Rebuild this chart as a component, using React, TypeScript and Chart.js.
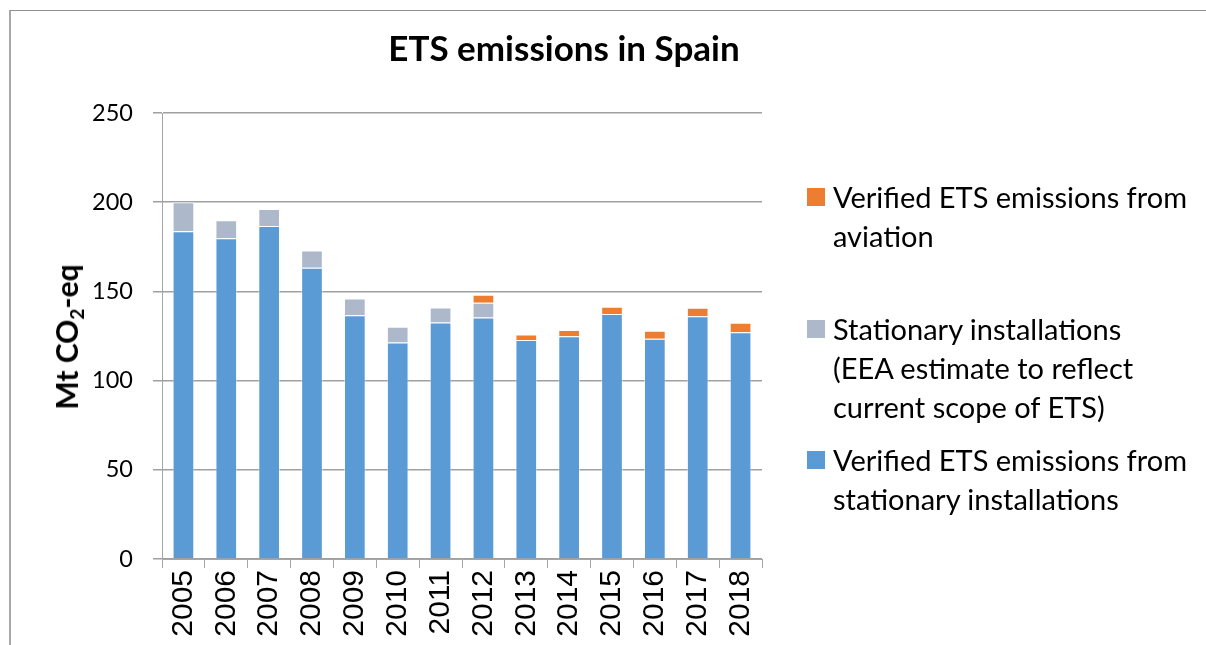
import React, { useEffect, useRef } from "react";
import { Chart, registerables } from "chart.js";

Chart.register(...registerables);

const years = ["2005","2006","2007","2008","2009","2010","2011","2012","2013","2014","2015","2016","2017","2018"];
const verifiedStationary = [183.7, 179.8, 186.7, 163.3, 136.7, 121.3, 132.6, 135.4, 122.8, 124.9, 137.3, 123.4, 136.1, 127.1];
const eeaEstimate = [16.3, 10.1, 9.5, 9.6, 9.3, 8.9, 8.4, 8.2, null, null, null, null, null, null];
const aviation = [null, null, null, null, null, null, null, 4.5, 3.0, 3.4, 4.1, 4.5, 4.7, 5.3];
const yTicks = [0, 50, 100, 150, 200, 250];

const title = "ETS emissions in Spain";
const legendItems = [
  { color: "#ED7D31", lines: ["Verified ETS emissions from", "aviation"] },
  { color: "#ADB9CA", lines: ["Stationary installations", "(EEA estimate to reflect", "current scope of ETS)"] },
  { color: "#5B9BD5", lines: ["Verified ETS emissions from", "stationary installations"] },
];

export default function App() {
  const ref = useRef<HTMLCanvasElement>(null);
  useEffect(() => {
    if (!ref.current) return;
    const edge = "rgba(255,255,255,0.45)";
    const chart = new Chart(ref.current, {
      type: "bar",
      data: {
        labels: years,
        datasets: [
          { label: "Verified ETS emissions from stationary installations", data: verifiedStationary, backgroundColor: "#5B9BD5", borderColor: edge, borderWidth: 1 },
          { label: "Stationary installations (EEA estimate to reflect current scope of ETS)", data: eeaEstimate as any, backgroundColor: "#ADB9CA", borderColor: edge, borderWidth: 1 },
          { label: "Verified ETS emissions from aviation", data: aviation as any, backgroundColor: "#ED7D31", borderColor: edge, borderWidth: 1 },
        ],
      },
      options: {
        animation: false,
        responsive: false,
        maintainAspectRatio: false,
        layout: { padding: { left: 92, right: 444, top: 113, bottom: 0 } },
        plugins: { legend: { display: false }, tooltip: { enabled: false }, title: { display: false } },
        datasets: { bar: { barPercentage: 0.506, categoryPercentage: 1 } },
        scales: {
          x: {
            stacked: true,
            afterFit: (s: any) => { s.height = 86; },
            grid: { offset: true, drawOnChartArea: false, drawTicks: true, tickLength: 9, color: "#A6A6A6", lineWidth: 1 },
            border: { display: true, color: "#A6A6A6", width: 1 },
            ticks: { minRotation: 90, maxRotation: 90, autoSkip: false, padding: 2, color: "#000", font: { family: "Liberation Sans", size: 30 } },
          },
          y: {
            stacked: true,
            min: 0,
            max: 250,
            afterFit: (s: any) => { s.width = 70; },
            afterBuildTicks: (s: any) => { s.ticks = yTicks.map((v) => ({ value: v })); },
            grid: { color: "#A0A0A0", lineWidth: 1.5, tickLength: 9, drawTicks: true },
            border: { display: true, color: "#A6A6A6", width: 1 },
            ticks: { stepSize: 50, padding: 20, color: "#000", font: { family: "Lato", size: 23.5 } },
          },
        },
      },
    });
    return () => chart.destroy();
  }, []);

  return (
    <div style={{ position: "fixed", left: 0, top: 0, width: 1206, height: 645, background: "#fff", overflow: "hidden", fontFamily: "Lato" }}>
      <div style={{ position: "absolute", left: 9, top: 10, width: 1300, height: 700, borderTop: "1px solid #8f8f8f", borderLeft: "2px solid #a8a8a8" }} />
      <canvas ref={ref} width={1206} height={645} style={{ position: "absolute", left: 0, top: 0, width: 1206, height: 645 }} />
      <div style={{ position: "absolute", left: 264, width: 600, top: 26, textAlign: "center", fontWeight: 700, fontSize: 35, lineHeight: "42px", color: "#000", whiteSpace: "nowrap" }}>{title}</div>
      <div style={{ position: "absolute", left: 66, top: 337, transform: "translate(-50%, -50%) rotate(-90deg)", fontWeight: 700, fontSize: 30, lineHeight: "36px", whiteSpace: "nowrap", color: "#000" }}>
        Mt CO<sub style={{ fontSize: 19, verticalAlign: "-6px", lineHeight: 0 }}>2</sub>-eq
      </div>
      {legendItems.map((item, i) => (
        <div key={i} style={{ position: "absolute", left: 807, top: [177, 309, 440][i], fontSize: 29, lineHeight: "39px", color: "#000" }}>
          <div style={{ position: "absolute", left: 0, top: 11, width: 18, height: 18, background: item.color }} />
          <div style={{ marginLeft: 26, whiteSpace: "nowrap" }}>
            {item.lines.map((l, j) => <div key={j}>{l}</div>)}
          </div>
        </div>
      ))}
    </div>
  );
}
